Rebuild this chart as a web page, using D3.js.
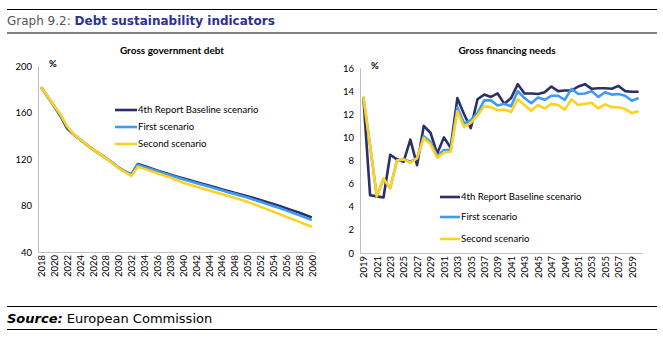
<!DOCTYPE html>
<html>
<head>
<meta charset="utf-8">
<script src="https://cdn.jsdelivr.net/npm/d3@7"></script>
<style>
  body { margin: 0; background: #fff; }
  text { font-family: Lato, "Open Sans", sans-serif; }
</style>
</head>
<body>
<div id="canvas"></div>
<script>
// ---- DATA ----
var debtYears = d3.range(2018, 2061);
var gfnYears = d3.range(2019, 2061);

var debtBase = [181.7, 173.5, 165.3, 156.8, 146.4, 141.2, 136.8, 132.5, 128.3, 124.6, 120.9, 117.0, 112.5, 109.3, 106.8,
  115.7, 113.9, 112.0, 110.2, 108.4, 106.6, 105.0, 103.4, 101.9, 100.3, 98.7, 97.1, 95.6, 94.0, 92.5, 90.9, 89.5, 88.0,
  86.4, 84.7, 83.0, 81.2, 79.5, 77.6, 75.8, 73.9, 71.9, 69.8];
var debtFirst = [181.7, 173.6, 165.6, 157.6, 147.6, 141.5, 137.0, 132.6, 128.4, 124.7, 120.9, 117.1, 112.6, 109.3, 106.6,
  115.1, 113.2, 111.4, 109.6, 107.8, 106.0, 104.3, 102.6, 101.0, 99.4, 97.8, 96.3, 94.7, 93.1, 91.5, 90.0, 88.4, 86.8,
  85.0, 83.2, 81.4, 79.6, 77.8, 75.8, 73.8, 71.7, 69.6, 67.5];
var debtSecond = [181.7, 173.8, 165.9, 158.2, 148.4, 141.6, 137.0, 132.6, 128.3, 124.6, 120.8, 116.8, 112.2, 108.7, 105.4,
  113.4, 111.5, 109.6, 107.8, 106.0, 104.2, 102.0, 99.6, 98.0, 96.3, 94.7, 93.1, 91.4, 89.8, 88.2, 86.6, 84.9, 83.3,
  81.2, 79.0, 76.9, 74.7, 72.6, 70.4, 68.3, 66.1, 63.9, 61.7];

var gfnBase = [13.5, 5.0, 4.9, 4.8, 8.5, 8.1, 7.9, 9.8, 7.6, 11.0,
  10.4, 8.6, 10.0, 9.1, 13.4, 12.0, 10.8, 13.3, 13.7, 13.5,
  13.8, 12.9, 13.4, 14.6, 13.8, 13.8, 13.75, 13.9, 14.4, 14.0,
  14.05, 14.05, 14.4, 14.6, 14.2, 14.25, 14.25, 14.2, 14.45, 14.0,
  13.95, 13.95];
var gfnFirst = [13.5, 9.3, 4.9, 6.4, 5.6, 8.0, 8.1, 7.9, 8.2, 10.1,
  9.6, 8.4, 8.9, 8.9, 12.6, 11.2, 11.5, 12.1, 13.2, 13.2,
  12.75, 12.9, 12.7, 14.0, 13.4, 12.95, 13.45, 13.25, 13.6, 13.6,
  13.25, 14.2, 13.75, 13.8, 14.0, 13.5, 13.9, 13.7, 13.75, 13.6,
  13.17, 13.4];
var gfnSecond = [13.5, 9.3, 4.9, 6.45, 5.6, 8.0, 8.1, 7.8, 8.2, 9.95,
  9.4, 8.25, 8.7, 8.75, 12.25, 10.9, 11.25, 11.9, 12.7, 12.6,
  12.35, 12.4, 12.2, 13.3, 12.8, 12.3, 12.8, 12.5, 12.9, 12.8,
  12.4, 13.3, 12.8, 12.9, 13.0, 12.5, 12.85, 12.6, 12.6, 12.45,
  12.1, 12.25];

var seriesNames = ['4th Report Baseline scenario', 'First scenario', 'Second scenario'];
var debtTicks = [40, 80, 120, 160, 200];
var gfnTicks = [0, 2, 4, 6, 8, 10, 12, 14, 16];

// ---- CONVENTIONS ----
var outerWidth = 663, outerHeight = 352;
var colors = ['#2b3066', '#3d9bf2', '#ffd21f'];

var svg = d3.select('#canvas')
    .append('svg')
    .attr('width', outerWidth)
    .attr('height', outerHeight);

// header & footer
svg.append('line').attr('x1', 7).attr('x2', 657).attr('y1', 9.5).attr('y2', 9.5)
    .style('stroke', '#000').style('stroke-width', 1.2);
var title = svg.append('text').attr('x', 7).attr('y', 25)
    .style('font-family', '"DejaVu Sans", sans-serif').style('font-size', '12px');
title.append('tspan').text('Graph 9.2:  ').style('fill', '#555');
title.append('tspan').text('Debt sustainability indicators').style('fill', '#2e3192').style('font-weight', 'bold');
svg.append('line').attr('x1', 7).attr('x2', 657).attr('y1', 33).attr('y2', 33)
    .style('stroke', '#000').style('stroke-width', 1.2);

svg.append('line').attr('x1', 7).attr('x2', 657).attr('y1', 306.5).attr('y2', 306.5)
    .style('stroke', '#000').style('stroke-width', 1.2);
var source = svg.append('text').attr('x', 7).attr('y', 323)
    .style('font-family', '"DejaVu Sans", sans-serif').style('font-size', '13px');
source.append('tspan').text('Source:').style('font-weight', 'bold').style('font-style', 'italic');
source.append('tspan').text(' European Commission');
svg.append('line').attr('x1', 7).attr('x2', 657).attr('y1', 329.5).attr('y2', 329.5)
    .style('stroke', '#000').style('stroke-width', 1.2);

// ---- DRAW FUNCTION ----
function drawPanel(cfg) {
    var scaleX = d3.scalePoint()
        .domain(cfg.years)
        .range([cfg.left, cfg.right])
        .padding(0.5);
    var scaleY = d3.scaleLinear()
        .domain(cfg.domain)
        .range([cfg.bottom, cfg.top]);

    var g = svg.append('g');

    g.append('text')
        .attr('x', cfg.titleX)
        .attr('y', 54)
        .attr('text-anchor', 'middle')
        .style('font-size', '10px')
        .style('font-weight', 'bold')
        .text(cfg.title);

    g.append('text')
        .attr('x', cfg.left + 11)
        .attr('y', cfg.top + 1)
        .style('font-size', '9.5px')
        .style('font-weight', 'bold')
        .text('%');

    // axes
    var axisY = d3.axisLeft(scaleY).tickValues(cfg.ticks).tickSize(0).tickPadding(6);
    var gy = g.append('g').attr('transform', 'translate(' + cfg.left + ',0)').call(axisY);
    var axisX = d3.axisBottom(scaleX)
        .tickValues(cfg.years.filter(function(d, i) { return i % 2 === 0; }))
        .tickSize(0);
    var gx = g.append('g').attr('transform', 'translate(0,' + cfg.bottom + ')').call(axisX);
    gx.selectAll('text')
        .attr('transform', 'rotate(-90)')
        .attr('x', -3)
        .attr('y', 0)
        .attr('dy', '0.35em')
        .style('text-anchor', 'end');
    [gx, gy].forEach(function(a) {
        a.select('.domain').style('stroke', '#bfbfbf').style('stroke-width', 1);
        a.selectAll('text').style('font-family', 'Lato, sans-serif').style('font-size', '9.5px').style('fill', '#000');
    });

    // lines
    var lineGenerator = d3.line()
        .x(function(d, i) { return scaleX(cfg.years[i]); })
        .y(function(d) { return scaleY(d); });

    cfg.series.forEach(function(s, i) {
        g.append('path')
            .datum(s)
            .attr('d', lineGenerator)
            .style('fill', 'none')
            .style('stroke', colors[i])
            .style('stroke-width', 2.6)
            .style('stroke-linejoin', 'round');
    });

    // legend
    seriesNames.forEach(function(name, i) {
        var y = cfg.legendY[i];
        g.append('line')
            .attr('x1', cfg.legendX).attr('x2', cfg.legendX + cfg.legendLen)
            .attr('y1', y).attr('y2', y)
            .style('stroke', colors[i])
            .style('stroke-width', 2.6);
        g.append('text')
            .attr('x', cfg.legendX + cfg.legendLen + 1)
            .attr('y', y)
            .attr('dy', '0.35em')
            .style('font-size', '9.6px')
            .text(name);
    });
}

drawPanel({
    title: 'Gross government debt', titleX: 172,
    years: debtYears, series: [debtBase, debtFirst, debtSecond],
    domain: [40, 200], ticks: debtTicks,
    left: 38, right: 315, top: 66, bottom: 252,
    legendX: 115, legendLen: 22, legendY: [110, 127, 144]
});

drawPanel({
    title: 'Gross financing needs', titleX: 507,
    years: gfnYears, series: [gfnBase, gfnFirst, gfnSecond],
    domain: [0, 16], ticks: gfnTicks,
    left: 360, right: 642, top: 68, bottom: 253,
    legendX: 440, legendLen: 20, legendY: [197, 217, 239]
});
</script>
</body>
</html>
